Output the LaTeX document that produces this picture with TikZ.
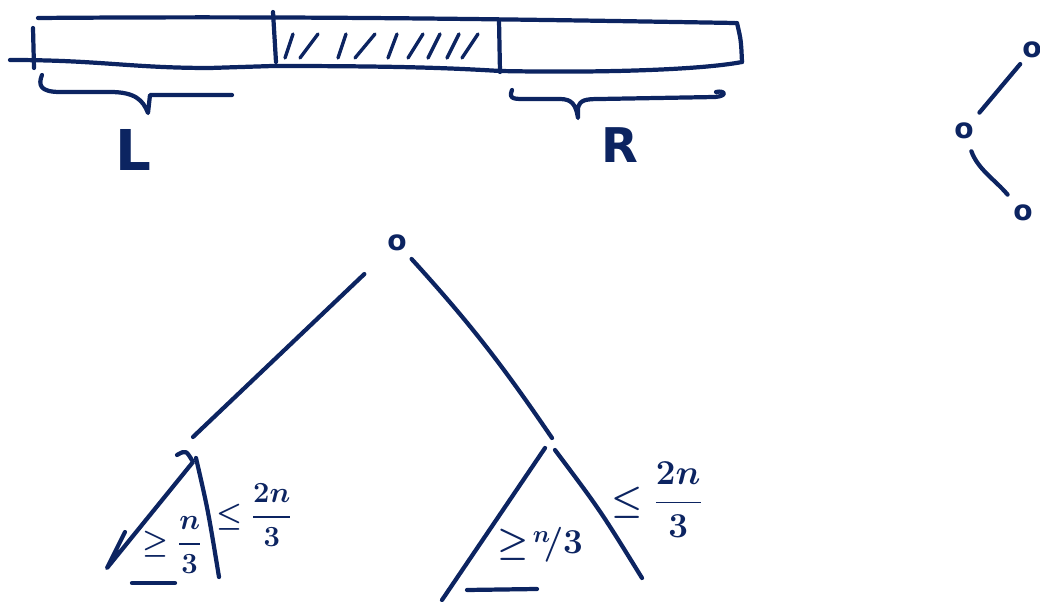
\documentclass[tikz,border=0pt]{standalone}
\usepackage{amsmath}
\usepackage{fontspec}
\setmainfont{DejaVu Sans}
\usetikzlibrary{positioning}
\definecolor{inkblue}{HTML}{0C2461}
\begin{document}
\begin{tikzpicture}[x=0.025cm, y=-0.025cm, line cap=round, line join=round,
          pen/.style={draw=inkblue, line width=3pt},
          vert/.style={text=inkblue, font=\fontsize{20}{22}\selectfont\bfseries, inner sep=1pt},
          big/.style={text=inkblue, font=\fontsize{40}{44}\selectfont\bfseries, inner sep=0pt},
          frac/.style={text=inkblue, font=\fontsize{22}{24}\selectfont\boldmath, inner sep=0pt}]
        \useasboundingbox (0,0) rectangle (1040,602);
        % the array, middle part hatched
        \draw[pen] (38,18) .. controls (300,16) and (500,19) .. (735,23);
        \draw[pen] (10,60) .. controls (100,60) and (130,68) .. (210,68) -- (273,66) .. controls (400,66) and (450,68) .. (500,71) .. controls (600,73) and (700,70) .. (742,62);
        \draw[pen] (737,23) .. controls (741,40) .. (742,62);
        \draw[pen] (33,28) -- (34,68);
        \draw[pen] (273,12) -- (276,62);
        \draw[pen] (499,20) -- (500,72);
        \foreach \x/\d in {285/8, 300/18, 338/8, 355/20, 388/9, 408/15, 428/12, 447/12, 462/16}
          \draw[pen, line width=2.4pt] (\x,58) -- ++(\d,-24);
        % braces
        \draw[pen] (42,75) .. controls (38,85) and (40,92) .. (60,92) -- (110,92) .. controls (135,92) and (143,100) .. (148,113) -- (150,95) -- (232,95);
        \draw[pen] (512,90) .. controls (508,100) and (515,99) .. (530,99) -- (560,99) .. controls (572,99) and (576,105) .. (578,118) -- (578,108) .. controls (580,100) and (585,99) .. (600,99) -- (715,97) .. controls (728,96) and (725,90) .. (716,92);
        \node[big] (lbl) at (133,150) {L};
        \node[big, font=\fontsize{34}{38}\selectfont\bfseries] (rbl) at (620,145) {R};
        % small tree, top right
        \node[vert] (t1) at (1032,50) {o};
        \node[vert] (t2) at (964,131) {o};
        \node[vert] (t3) at (1023,213) {o};
        \draw[pen, shorten <=4pt, shorten >=8pt] (t1) -- (t2);
        \draw[pen, shorten <=8pt, shorten >=8pt] (t2) to[out=-70, in=130] (t3);
        % recursion tree
        \node[vert] (root) at (397,243) {o};
        \coordinate (lapex) at (193,437);
        \coordinate (rapex) at (552,438);
        \draw[pen, shorten <=22pt] (root) -- (lapex);
        \draw[pen, shorten <=6pt] (root) to[bend left=4] (rapex);
        % left subtree
        \draw[pen] (177,455) .. controls (186,450) .. (193,462) -- (107,568) -- (125,532);
        \draw[pen] (196,458) .. controls (208,510) .. (219,577);
        \draw[pen] (132,583) -- (175,583);
        \node[frac] (lge) at (172,545) {$\geq\dfrac{n}{3}$};
        \node[frac] (lle) at (254,515) {$\leq\dfrac{2n}{3}$};
        % right subtree
        \draw[pen] (545,448) -- (442,600);
        \draw[pen] (555,450) .. controls (600,510) .. (642,578);
        \draw[pen] (467,590) -- (537,589);
        \node[frac, font=\fontsize{24}{26}\selectfont\boldmath] (rge) at (540,545) {$\geq\!\raisebox{0.6ex}{$\scriptstyle n$}\!/3$};
        \node[frac, font=\fontsize{24}{26}\selectfont\boldmath] (rle) at (657,500) {$\leq\dfrac{2n}{3}$};
      \end{tikzpicture}
\end{document}
